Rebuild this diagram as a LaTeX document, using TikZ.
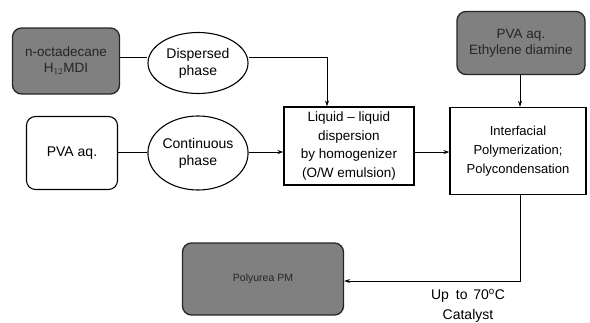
\documentclass[tikz,border=0pt]{standalone}
\usepackage{fontspec}
\setmainfont{Liberation Sans}
\usetikzlibrary{shapes.geometric,arrows.meta}
\begin{document}
\begin{tikzpicture}[x=1pt,y=-1pt,
  graybox/.style={draw=black!85,line width=1.3pt,rounded corners=9pt,fill=black!50,text=black!85,align=center,inner sep=0pt,font=\fontsize{13.5}{16}\selectfont},
  whitebox/.style={draw,line width=1.1pt,align=center,inner sep=0pt,font=\fontsize{13.5}{18.5}\selectfont},
  roundbox/.style={draw,line width=1.1pt,rounded corners=9pt,align=center,inner sep=0pt,font=\fontsize{14}{16}\selectfont},
  phase/.style={draw,ellipse,line width=1.1pt,align=center,inner sep=0pt,font=\fontsize{14}{17}\selectfont},
  conn/.style={line width=1pt},
  arr/.style={line width=1pt,-{Stealth[length=6pt,width=4pt]}}]
\useasboundingbox (0,0) rectangle (590,322);
\node[graybox,minimum width=107pt,minimum height=66pt] (oct) at (66,61) {n-octadecane\\H$_{12}$MDI};
\node[phase,minimum width=100pt,minimum height=61pt] (disp) at (198,63) {Dispersed\\phase};
\node[roundbox,minimum width=91pt,minimum height=73pt] (pva) at (72,153) {PVA aq.};
\node[phase,minimum width=100pt,minimum height=74pt] (cont) at (198,153) {Continuous\\phase};
\node[whitebox,minimum width=130pt,minimum height=78pt] (liq) at (349,146) {Liquid -- liquid\\dispersion\\by homogenizer\\(O/W emulsion)};
\node[graybox,minimum width=128pt,minimum height=63pt] (eth) at (521,43) {PVA aq.\\Ethylene diamine};
\node[whitebox,minimum width=136pt,minimum height=87pt,font=\fontsize{13}{19}\selectfont] (inter) at (518,151) {Interfacial\\Polymerization;\\Polycondensation};
\node[graybox,minimum width=161pt,minimum height=72pt,font=\fontsize{10.5}{12}\selectfont] (pm) at (263,279) {Polyurea PM};
\coordinate (c1) at (327,57);
\coordinate (c2) at (520,281);
\draw[conn] (oct.east |- 0,57) -- (disp.west |- 0,57);
\draw[arr] (disp.east |- 0,57) -- (c1) -- (c1 |- liq.north);
\draw[conn] (pva.east |- 0,152) -- (cont.west |- 0,152);
\draw[arr] (cont.east |- 0,152) -- (liq.west |- 0,152);
\draw[arr] (liq.east |- 0,152) -- (inter.west |- 0,152);
\draw[arr] (eth.south -| 520,0) -- (inter.north -| 520,0);
\draw[arr] (inter.south -| c2) -- (c2) -- (pm.east |- c2);
\node[align=center,font=\fontsize{14}{20}\selectfont,inner sep=0pt] (lab) at (468,306) {Up\hspace{0.5em}to\hspace{0.4em}70\textsuperscript{o}C\\Catalyst};
\end{tikzpicture}
\end{document}
